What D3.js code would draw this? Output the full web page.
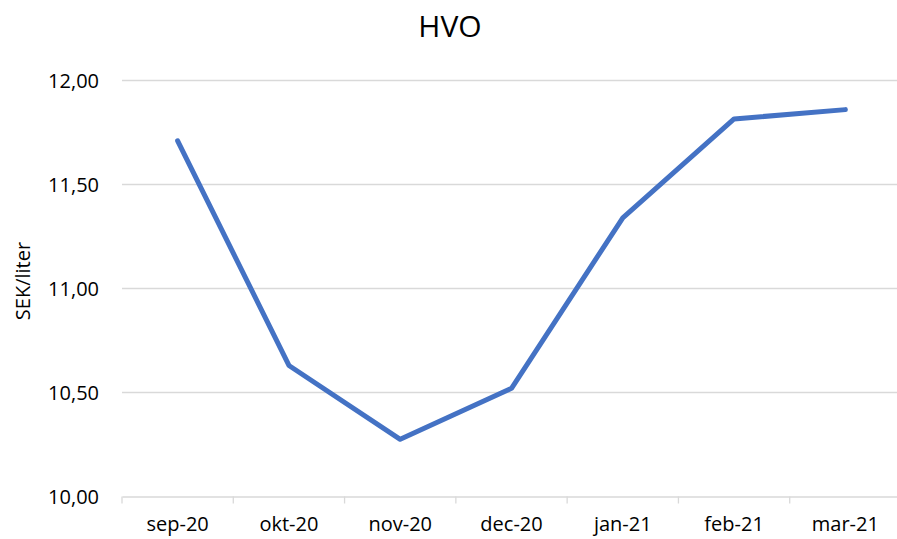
<!DOCTYPE html>
<html><head><meta charset="utf-8">
<script src="https://cdn.jsdelivr.net/npm/d3@7"></script>
<style>body{margin:0;background:#fff}svg{display:block}text{font-family:"Open Sans",sans-serif;fill:#000}</style>
</head><body>
<script>
const categories = ["sep-20","okt-20","nov-20","dec-20","jan-21","feb-21","mar-21"];
const values = [11.71, 10.63, 10.275, 10.52, 11.34, 11.815, 11.86];
const yTicks = [10, 10.5, 11, 11.5, 12];
const title = "HVO";
const yLabel = "SEK/liter";

const W = 897, H = 539;
const svg = d3.select("body").append("svg").attr("width", W).attr("height", H);
const x = d3.scaleBand().domain(categories).range([122, 901]);
const y = d3.scaleLinear().domain([10, 12]).range([496.5, 80.5]);
const fmt = v => d3.format(".2f")(v).replace(".", ",");

// gridlines
svg.append("g").selectAll("line").data(yTicks.filter(t => t > 10)).join("line")
  .attr("x1", 122).attr("x2", 901).attr("y1", d => y(d)).attr("y2", d => y(d))
  .attr("stroke", "#d9d9d9").attr("stroke-width", 1.3);

// y tick labels
svg.append("g").selectAll("text").data(yTicks).join("text")
  .attr("x", 99).attr("y", d => y(d)).attr("dy", "0.35em")
  .attr("text-anchor", "end").style("font-size", "20px").text(fmt);

// x axis
const xAxis = d3.axisBottom(x).tickSize(0).tickFormat(d => d);
const gx = svg.append("g").attr("transform", `translate(0,${y(10)})`).call(xAxis);
gx.select(".domain").attr("stroke", "#d9d9d9").attr("stroke-width", 1.3);
gx.selectAll(".tick text").attr("y", 34).attr("dy", 0).style("font-size", "20px").style("font-family", "'Open Sans',sans-serif").attr("fill", "#000");
// category boundary ticks
const bounds = categories.map(c => x(c)).concat([x.range()[1]]);
svg.append("g").selectAll("line").data(bounds).join("line")
  .attr("x1", d => d).attr("x2", d => d).attr("y1", y(10)).attr("y2", y(10) + 7)
  .attr("stroke", "#d9d9d9").attr("stroke-width", 1.3);

// line
const line = d3.line().x((d, i) => x(categories[i]) + x.bandwidth() / 2).y(d => y(d));
svg.append("path").datum(values).attr("d", line).attr("fill", "none")
  .attr("stroke", "#4472C4").attr("stroke-width", 5)
  .attr("stroke-linejoin", "round").attr("stroke-linecap", "round");

// title
svg.append("text").attr("x", 450).attr("y", 37).attr("text-anchor", "middle")
  .style("font-size", "30px").text(title);
// y label
svg.append("text").attr("transform", "translate(30,281) rotate(-90)")
  .attr("text-anchor", "middle").style("font-size", "20px").text(yLabel);
</script>
</body></html>
